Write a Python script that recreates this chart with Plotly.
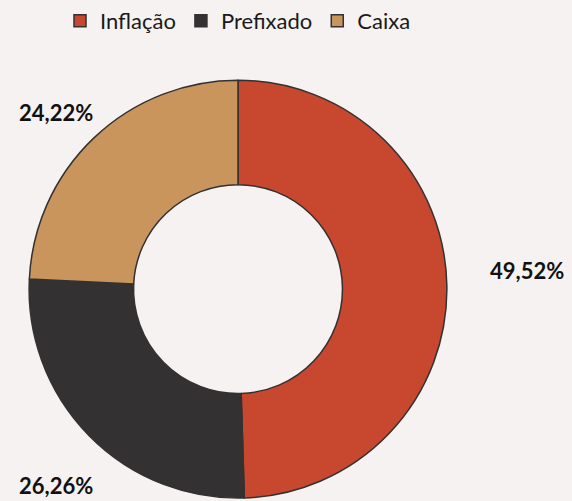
import plotly.graph_objects as go

categories = ["Inflação", "Prefixado", "Caixa"]
values = [49.52, 26.26, 24.22]
value_labels = ["49,52%", "26,26%", "24,22%"]
colors = ["#c8472f", "#333132", "#c9955d"]

# label anchor positions (paper coords) and alignment, layout only
label_pos = [(0.853, 0.465, "left"), (0.166, 0.032, "right"), (0.166, 0.784, "right")]

W, H = 572, 501
cx, cy, R = 238, 287, 211
FONT = "Lato, 'Noto Sans', sans-serif"

fig = go.Figure(go.Pie(
    labels=categories,
    values=values,
    hole=0.5,
    sort=False,
    direction="clockwise",
    rotation=0,
    marker=dict(colors=colors, line=dict(color="#333132", width=1.5)),
    textinfo="none",
    hoverinfo="label+percent",
    domain=dict(x=[(cx - R) / W, (cx + R) / W], y=[(H - cy - R) / H, (H - cy + R) / H]),
))

for txt, (x, y, anchor) in zip(value_labels, label_pos):
    fig.add_annotation(x=x, y=y, xref="paper", yref="paper", text=txt, showarrow=False,
                       xanchor=anchor, yanchor="middle",
                       font=dict(size=22, color="#111111", family=FONT, weight="bold"))

fig.update_layout(
    width=W, height=H,
    margin=dict(l=0, r=0, t=0, b=0),
    paper_bgcolor="#f6f2f1",
    plot_bgcolor="#f6f2f1",
    font=dict(family=FONT, color="#222222"),
    legend=dict(orientation="h", x=cx / W, xanchor="center", y=1.01, yanchor="top",
                font=dict(size=22, color="#1a1a1a"), itemclick=False, bgcolor="rgba(0,0,0,0)",
                traceorder="normal"),
    showlegend=True,
)

fig.write_html("out.html", config={"displayModeBar": False},
               post_script="document.body.style.margin='0';document.body.style.background='#f6f2f1';")
